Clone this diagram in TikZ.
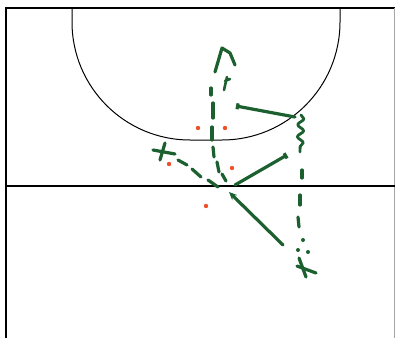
\documentclass[tikz,border=0pt]{standalone}
\usetikzlibrary{arrows.meta,decorations.pathmorphing}
\definecolor{pen}{RGB}{28,96,48}
\definecolor{dotred}{RGB}{240,80,40}
\tikzset{
  field/.style={line width=1.1pt,black},
  fieldthin/.style={line width=1pt,black},
  stroke/.style={pen,line width=3.2pt,line cap=round,line join=round},
  reddot/.style={fill=dotred,draw=none},
}
\begin{document}
\begin{tikzpicture}[x=1pt,y=1pt]
\useasboundingbox (0,0) rectangle (395,338);
% field
\draw[field] (6,0) -- (6,330) -- (395,330);
\draw[line width=0.6pt,black!35] (394,330) -- (394,0);
\draw[field] (6,152) -- (395,152);
\draw[fieldthin] (72,330) -- (72,316) arc[start angle=180,end angle=270,radius=118pt]
  -- (222,198) arc[start angle=270,end angle=360,radius=118pt] -- (340,330);
% vertical dashed run with arrow head
\draw[stroke] (211,250) -- (211,243);
\draw[stroke] (213,235) -- (213,220);
\draw[stroke] (212,211) -- (212,198);
\draw[stroke] (213,191) -- (214,181);
\draw[stroke] (217,176) -- (219,166);
\draw[stroke] (222,164) -- (226,157);
\draw[stroke,line width=2.6pt] (224,248) -- (227,261) (225,257) -- (230,259);
\draw[stroke] (215,266) -- (222,290) -- (230,285) -- (235,273);
% X left and dashed pass
\draw[stroke] (153,188) -- (175,184);
\draw[stroke] (165,195) -- (160,178);
\draw[stroke] (178,178) -- (187,173);
\draw[stroke] (192,169) -- (201,161);
\draw[stroke] (208,158) -- (218,151);
% solid arrow from below
\draw[stroke,-{Stealth[length=8pt,width=7pt]}] (283,93) -- (229,146);
% solid line up-right
\draw[stroke,-{Bar[width=6pt]}] (235,153) -- (287,183);
% solid line to the left
\draw[stroke,-{Bar[width=6pt]}] (295,221) -- (236,232);
% dribble
\draw[stroke,line width=2.8pt,decorate,decoration={snake,amplitude=3pt,segment length=12pt}] (301,223) -- (300,186);
% right dashed run and X
\draw[stroke] (302,168) -- (302,160);
\draw[stroke] (300,143) -- (300,133);
\draw[stroke] (298,121) -- (299,111);
\fill[pen] (303,98) circle (2pt);
\fill[pen] (298,88) circle (2pt);
\fill[pen] (308,86) circle (2pt);
\draw[stroke] (299,80) -- (306,61);
\draw[stroke] (297,72) -- (316,65);
% red dots
\fill[reddot] (198,210) circle (2.2pt);
\fill[reddot] (225,210) circle (2.2pt);
\fill[reddot] (169,174) circle (2.2pt);
\fill[reddot] (232,170) circle (2.2pt);
\fill[reddot] (206,132) circle (2.2pt);
\end{tikzpicture}
\end{document}
